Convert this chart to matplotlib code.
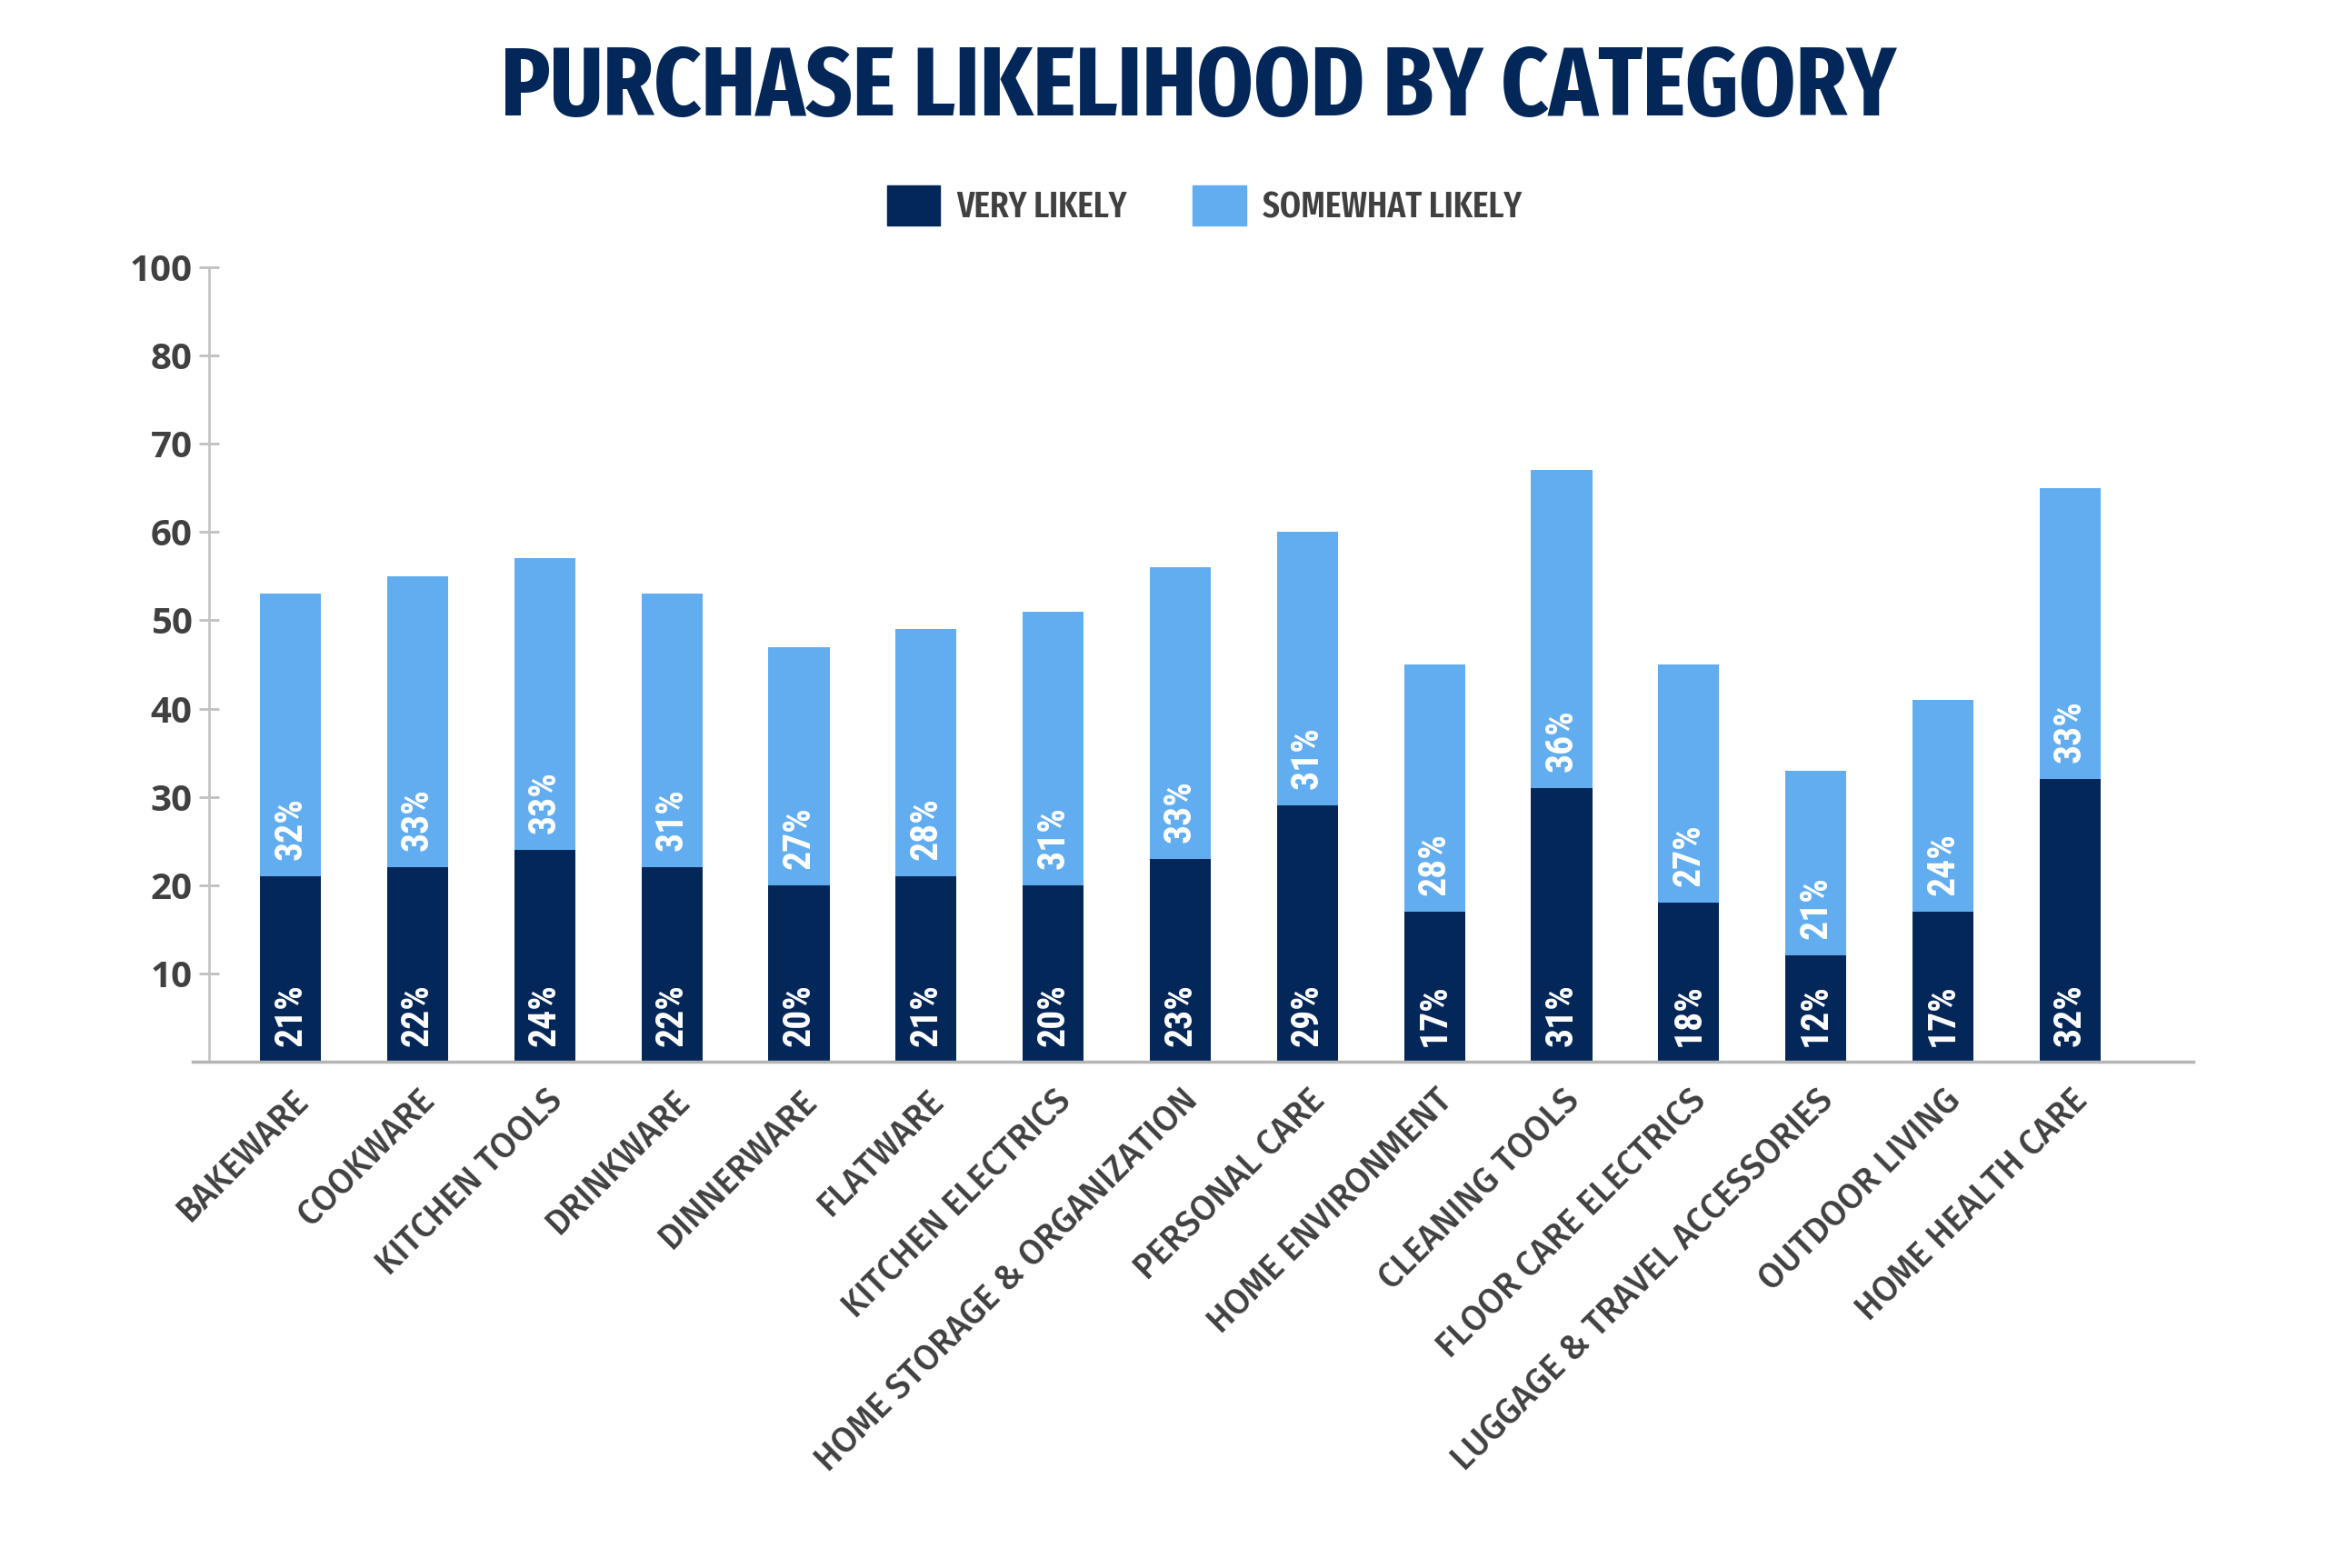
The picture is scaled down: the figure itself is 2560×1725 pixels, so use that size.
import matplotlib
matplotlib.use("Agg")
import matplotlib.pyplot as plt
import matplotlib.transforms as mtransforms
from matplotlib.patches import Patch

# Purchase likelihood data (percent of respondents)
categories = [
    "BAKEWARE", "COOKWARE", "KITCHEN TOOLS", "DRINKWARE", "DINNERWARE",
    "FLATWARE", "KITCHEN ELECTRICS", "HOME STORAGE & ORGANIZATION",
    "PERSONAL CARE", "HOME ENVIRONMENT", "CLEANING TOOLS",
    "FLOOR CARE ELECTRICS", "LUGGAGE & TRAVEL ACCESSORIES",
    "OUTDOOR LIVING", "HOME HEALTH CARE",
]
very_likely = [21, 22, 24, 22, 20, 21, 20, 23, 29, 17, 31, 18, 12, 17, 32]
somewhat_likely = [32, 33, 33, 31, 27, 28, 31, 33, 31, 28, 36, 27, 21, 24, 33]
ytick_values = [10, 20, 30, 40, 50, 60, 70, 80, 90]
ytick_labels = ["10", "20", "30", "40", "50", "60", "70", "80", "100"]

NAVY = "#04275a"
LIGHT = "#62adf0"
GREY_TXT = "#404040"
TITLE_FONT = ["Fira Sans Extra Condensed", "DejaVu Sans"]
TICK_FONT = ["Open Sans", "DejaVu Sans"]
CAT_FONT = ["Fira Sans", "Open Sans", "DejaVu Sans"]
BAR_FONT = ["Roboto Condensed", "DejaVu Sans"]

fig = plt.figure(figsize=(25.6, 17.25), dpi=100)
ax = fig.add_axes([0.0828, 0.3229, 0.8598, 0.5067])

# spine layout first (set_position resets tick styling)
for side in ("top", "right"):
    ax.spines[side].set_visible(False)
ax.spines["left"].set_position(("data", -0.644))
ax.spines["left"].set_color("#c4c4c4")
ax.spines["left"].set_linewidth(2)
ax.spines["bottom"].set_color("#b5b5b5")
ax.spines["bottom"].set_linewidth(2.5)

x = list(range(len(categories)))
ax.bar(x, very_likely, width=0.48, color=NAVY, label="VERY LIKELY", zorder=2)
ax.bar(x, somewhat_likely, width=0.48, bottom=very_likely, color=LIGHT,
       label="SOMEWHAT LIKELY", zorder=2)

# percentage labels inside bars
for i in x:
    ax.annotate(f"{very_likely[i]}%", (i, 0), xytext=(0, 12), textcoords="offset points",
                rotation=90, ha="center", va="bottom", color="white",
                fontsize=30, fontweight="bold", family=BAR_FONT, zorder=3)
    ax.annotate(f"{somewhat_likely[i]}%", (i, very_likely[i]), xytext=(0, 13),
                textcoords="offset points", rotation=90, ha="center", va="bottom",
                color="white", fontsize=30, fontweight="bold", family=BAR_FONT, zorder=3)

ax.set_xlim(-0.77, 14.97)
ax.set_ylim(0, 90)
ax.set_yticks(ytick_values)
ax.set_yticklabels(ytick_labels, fontsize=29, fontweight="bold", color=GREY_TXT,
                   family=TICK_FONT)
ax.set_xticks(x)
ax.set_xticklabels(categories, rotation=45, ha="right", va="center", rotation_mode="anchor",
                   fontsize=27.5, fontweight="medium", color=GREY_TXT, family=CAT_FONT)
ax.tick_params(axis="x", length=0, pad=27)
ax.tick_params(axis="y", direction="inout", length=16, width=2, color="#c0c0c0", pad=5)

shift = mtransforms.ScaledTranslation(0.14, 0, fig.dpi_scale_trans)
for lbl in ax.get_xticklabels():
    lbl.set_transform(lbl.get_transform() + shift)

fig.text(0.515, 0.943, "PURCHASE LIKELIHOOD BY CATEGORY", ha="center", va="center",
         fontsize=78, fontweight="bold", color=NAVY, family=TITLE_FONT)

handles = [Patch(color=NAVY, label="VERY LIKELY"), Patch(color=LIGHT, label="SOMEWHAT LIKELY")]
leg = fig.legend(handles=handles, loc="center", bbox_to_anchor=(0.5176, 0.869), ncol=2,
                 frameon=False, handlelength=1.46, handleheight=1.31, columnspacing=1.8,
                 handletextpad=0.45,
                 prop={"family": TITLE_FONT, "weight": "semibold", "size": 29})
for t in leg.get_texts():
    t.set_color(GREY_TXT)

fig.savefig("out.png", dpi=100, facecolor="white")
